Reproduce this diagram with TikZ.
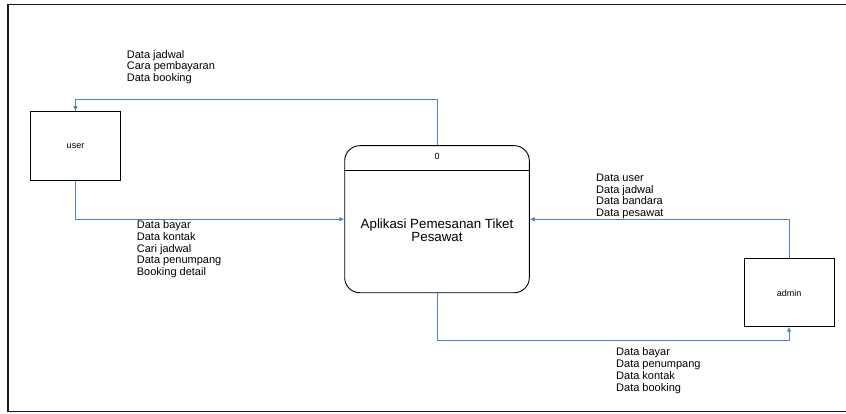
\documentclass[tikz,border=0pt]{standalone}
\usepackage{fontspec}
\setmainfont{Liberation Sans}
\usetikzlibrary{arrows.meta}
\tikzset{
  flow/.style={draw=flowblue, line width=0.9pt, -{Latex[length=5pt,width=4.5pt]}},
  entity/.style={draw=black, line width=0.9pt, minimum width=90pt, minimum height=69pt, inner sep=0pt, font=\fontsize{9}{10}\selectfont},
  proc/.style={draw=black, line width=0.9pt, rounded corners=15pt, minimum width=184.6pt, minimum height=147pt, inner sep=0pt},
  lbl/.style={anchor=base west, align=left, inner sep=0pt, font=\fontsize{11}{11.8}\selectfont},
}
\definecolor{flowblue}{HTML}{4F81BD}
\begin{document}
\begin{tikzpicture}[x=1pt,y=-1pt]
\useasboundingbox (0,0) rectangle (846,414);
\draw[line width=1.6pt, color=black!90] (846,4.5) -- (8,4.5) -- (8,411.5) -- (846,411.5);

\node[entity] (user) at (75.5,146.2) {};
\node[font=\fontsize{9}{10}\selectfont, anchor=base, inner sep=0pt] (usert) at (75.5,149) {user};
\node[entity, minimum height=68pt] (admin) at (789,292.2) {};
\node[font=\fontsize{9}{10}\selectfont, anchor=base, inner sep=0pt] (admint) at (789,296.5) {admin};

\node[proc] (p) at (437,219.2) {};
\draw[line width=0.9pt] ([yshift=-25pt]p.north west) -- ([yshift=-25pt]p.north east);
\node[font=\fontsize{9}{10}\selectfont, anchor=base, inner sep=0pt] (pid) at (437,160) {0};
\node[font=\fontsize{13.3}{13.8}\selectfont, anchor=base, align=center, inner sep=0pt] (ptext) at (437,242) {Aplikasi Pemesanan Tiket\\Pesawat};

\coordinate (c1) at (437,99);
\coordinate (c2) at (437,340.3);
\draw[flow] (p.north) -- (c1) -| (user.north);
\draw[flow] (user.south) |- (p.west);
\draw[flow] (admin.north) |- (p.east);
\draw[flow] (p.south) -- (c2) -| (admin.south);

\node[lbl] (l1) at (126.7,81.7) {Data jadwal\\Cara pembayaran\\Data booking};
\node[lbl] (l2) at (136.7,275.7) {Data bayar\\Data kontak\\Cari jadwal\\Data penumpang\\Booking detail};
\node[lbl] (l3) at (596,216.7) {Data user\\Data jadwal\\Data bandara\\Data pesawat};
\node[lbl] (l4) at (616,391) {Data bayar\\Data penumpang\\Data kontak\\Data booking};
\end{tikzpicture}
\end{document}
